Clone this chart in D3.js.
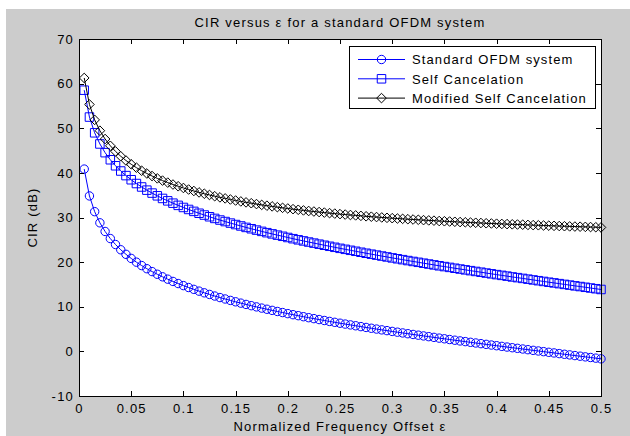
<!DOCTYPE html>
<html>
<head>
<meta charset="utf-8">
<script src="https://cdn.jsdelivr.net/npm/d3@7/dist/d3.min.js"></script>
<style>
    html, body { margin: 0; padding: 0; background: #fff; }
    text { font-family: "Liberation Sans", Arial, sans-serif; font-size: 13px; fill: #000; letter-spacing: 1.2px; }
</style>
</head>
<body>
<svg id="chart" width="630" height="436"></svg>
<script>
'use strict';

var eps = [
    0.005, 0.01, 0.015, 0.02, 0.025, 0.03, 0.035, 0.04, 0.045, 0.05,
    0.055, 0.06, 0.065, 0.07, 0.075, 0.08, 0.085, 0.09, 0.095, 0.1,
    0.105, 0.11, 0.115, 0.12, 0.125, 0.13, 0.135, 0.14, 0.145, 0.15,
    0.155, 0.16, 0.165, 0.17, 0.175, 0.18, 0.185, 0.19, 0.195, 0.2,
    0.205, 0.21, 0.215, 0.22, 0.225, 0.23, 0.235, 0.24, 0.245, 0.25,
    0.255, 0.26, 0.265, 0.27, 0.275, 0.28, 0.285, 0.29, 0.295, 0.3,
    0.305, 0.31, 0.315, 0.32, 0.325, 0.33, 0.335, 0.34, 0.345, 0.35,
    0.355, 0.36, 0.365, 0.37, 0.375, 0.38, 0.385, 0.39, 0.395, 0.4,
    0.405, 0.41, 0.415, 0.42, 0.425, 0.43, 0.435, 0.44, 0.445, 0.45,
    0.455, 0.46, 0.465, 0.47, 0.475, 0.48, 0.485, 0.49, 0.495, 0.5
];

var cirStandard = [
    40.85, 34.83, 31.31, 28.81, 26.87, 25.28, 23.94, 22.77, 21.75, 20.83,
    19.99, 19.23, 18.53, 17.88, 17.28, 16.71, 16.18, 15.67, 15.20, 14.74,
    14.31, 13.90, 13.50, 13.12, 12.76, 12.40, 12.06, 11.74, 11.42, 11.11,
    10.81, 10.52, 10.24, 9.97, 9.70, 9.44, 9.19, 8.94, 8.70, 8.46,
    8.22, 8.00, 7.77, 7.55, 7.34, 7.13, 6.92, 6.71, 6.51, 6.31,
    6.12, 5.93, 5.74, 5.55, 5.36, 5.18, 5.00, 4.82, 4.65, 4.47,
    4.30, 4.13, 3.96, 3.79, 3.63, 3.46, 3.30, 3.14, 2.97, 2.82,
    2.66, 2.50, 2.34, 2.19, 2.03, 1.88, 1.73, 1.57, 1.42, 1.27,
    1.12, 0.97, 0.82, 0.68, 0.53, 0.38, 0.23, 0.09, -0.06, -0.21,
    -0.35, -0.50, -0.65, -0.79, -0.94, -1.08, -1.23, -1.37, -1.52, -1.67
];

var cirSelfCancel = [
    58.53, 52.51, 48.98, 46.48, 44.53, 42.94, 41.59, 40.42, 39.39, 38.46,
    37.61, 36.84, 36.13, 35.47, 34.86, 34.27, 33.73, 33.21, 32.72, 32.25,
    31.80, 31.37, 30.95, 30.55, 30.17, 29.79, 29.43, 29.09, 28.75, 28.42,
    28.10, 27.78, 27.48, 27.18, 26.89, 26.60, 26.33, 26.05, 25.79, 25.52,
    25.25, 25.00, 24.75, 24.50, 24.26, 24.02, 23.78, 23.55, 23.32, 23.09,
    22.87, 22.65, 22.43, 22.21, 21.99, 21.78, 21.57, 21.36, 21.16, 20.95,
    20.75, 20.55, 20.35, 20.15, 19.96, 19.76, 19.57, 19.38, 19.18, 19.00,
    18.82, 18.63, 18.45, 18.27, 18.09, 17.91, 17.74, 17.55, 17.38, 17.20,
    17.03, 16.86, 16.68, 16.52, 16.35, 16.18, 16.01, 15.84, 15.67, 15.50,
    15.34, 15.18, 15.01, 14.85, 14.68, 14.53, 14.36, 14.20, 14.04, 13.87
];

var cirModified = [
    61.27, 55.33, 51.88, 49.45, 47.59, 46.07, 44.81, 43.72, 42.77, 41.93,
    41.17, 40.48, 39.86, 39.29, 38.77, 38.27, 37.82, 37.39, 37.00, 36.62,
    36.27, 35.94, 35.62, 35.33, 35.05, 34.77, 34.51, 34.28, 34.04, 33.81,
    33.60, 33.39, 33.20, 33.01, 32.83, 32.65, 32.49, 32.32, 32.17, 32.02,
    31.87, 31.73, 31.59, 31.46, 31.34, 31.22, 31.10, 30.98, 30.87, 30.76,
    30.66, 30.56, 30.47, 30.37, 30.27, 30.18, 30.10, 30.01, 29.93, 29.85,
    29.77, 29.70, 29.62, 29.55, 29.49, 29.41, 29.35, 29.29, 29.21, 29.16,
    29.10, 29.04, 28.98, 28.93, 28.87, 28.82, 28.77, 28.71, 28.66, 28.61,
    28.56, 28.52, 28.47, 28.43, 28.39, 28.34, 28.29, 28.26, 28.21, 28.17,
    28.13, 28.09, 28.05, 28.01, 27.97, 27.94, 27.90, 27.86, 27.82, 27.78
];

var xTicks = [0, 0.05, 0.1, 0.15, 0.2, 0.25, 0.3, 0.35, 0.4, 0.45, 0.5];
var yTicks = [-10, 0, 10, 20, 30, 40, 50, 60, 70];

var seriesNames = ['Standard OFDM system', 'Self Cancelation', 'Modified Self Cancelation'];
var seriesColors = ['#0000ff', '#0000ff', '#000000'];
var seriesMarkers = ['circle', 'square', 'diamond'];
var seriesValues = [cirStandard, cirSelfCancel, cirModified];

var titleText = 'CIR versus \u03b5 for a standard OFDM system';
var xLabelText = 'Normalized Frequency Offset \u03b5';
var yLabelText = 'CIR (dB)';

(function () {
    var svg = d3.select('#chart');
    var plot = {left: 79, top: 39, right: 601, bottom: 396};
    var x = d3.scaleLinear().domain([0, 0.5]).range([plot.left, plot.right]);
    var y = d3.scaleLinear().domain([-10, 70]).range([plot.bottom, plot.top]);
    var line;
    var g;
    var i;

    // grey figure background with the thin white margin on top / left
    svg.append('rect')
        .attr('x', 0).attr('y', 0).attr('width', 630).attr('height', 436)
        .attr('fill', '#ffffff');
    svg.append('rect')
        .attr('x', 6).attr('y', 9).attr('width', 624).attr('height', 427)
        .attr('fill', '#cccccc');

    svg.append('rect')
        .attr('x', plot.left).attr('y', plot.top)
        .attr('width', plot.right - plot.left)
        .attr('height', plot.bottom - plot.top)
        .attr('fill', '#ffffff');

    function markerPath(type) {
        var s;
        if (type === 'circle') {
            return d3.symbol().type(d3.symbolCircle).size(Math.PI * 4.2 * 4.2)();
        }
        if (type === 'square') {
            s = 8.5;
            return 'M' + (-s / 2) + ',' + (-s / 2) + 'h' + s + 'v' + s + 'h' + (-s) + 'Z';
        }
        s = 4.8;
        return 'M0,' + (-s) + 'L' + s + ',0L0,' + s + 'L' + (-s) + ',0Z';
    }

    line = d3.line()
        .x(function (d) { return x(d[0]); })
        .y(function (d) { return y(d[1]); });

    for (i = 0; i < seriesValues.length; i++) {
        var pts = eps.map(function (e, j) { return [e, seriesValues[i][j]]; });

        g = svg.append('g').attr('class', 'series series_' + i);

        g.append('path')
            .datum(pts)
            .attr('d', line)
            .attr('fill', 'none')
            .attr('stroke', seriesColors[i])
            .attr('stroke-width', 1);

        g.selectAll('path.marker')
            .data(pts)
            .enter()
            .append('path')
            .attr('class', 'marker')
            .attr('d', markerPath(seriesMarkers[i]))
            .attr('transform', function (d) {
                return 'translate(' + x(d[0]) + ',' + y(d[1]) + ')';
            })
            .attr('fill', 'none')
            .attr('stroke', seriesColors[i])
            .attr('stroke-width', 1);
    }

    // axes, ticks pointing inwards on all four sides
    svg.append('g')
        .attr('transform', 'translate(0,' + plot.bottom + ')')
        .call(d3.axisBottom(x).tickValues(xTicks).tickSizeInner(-5).tickSizeOuter(0).tickPadding(8)
            .tickFormat(function (d) { return String(d); }));
    svg.append('g')
        .attr('transform', 'translate(0,' + plot.top + ')')
        .call(d3.axisTop(x).tickValues(xTicks).tickSizeInner(-5).tickSizeOuter(0).tickFormat(''));
    svg.append('g')
        .attr('transform', 'translate(' + plot.left + ',0)')
        .call(d3.axisLeft(y).tickValues(yTicks).tickSizeInner(-5).tickSizeOuter(0).tickPadding(5)
            .tickFormat(function (d) { return String(d); }));
    svg.append('g')
        .attr('transform', 'translate(' + plot.right + ',0)')
        .call(d3.axisRight(y).tickValues(yTicks).tickSizeInner(-5).tickSizeOuter(0).tickFormat(''));

    svg.selectAll('.tick text')
        .attr('font-family', null)
        .attr('font-size', null)
        .style('font-size', '13px');
    svg.selectAll('.domain, .tick line')
        .attr('stroke', '#000')
        .attr('shape-rendering', 'crispEdges');

    svg.append('rect')
        .attr('x', plot.left + 0.5).attr('y', plot.top + 0.5)
        .attr('width', plot.right - plot.left)
        .attr('height', plot.bottom - plot.top)
        .attr('fill', 'none')
        .attr('stroke', '#000')
        .attr('shape-rendering', 'crispEdges');

    svg.append('text')
        .attr('x', (plot.left + plot.right) / 2)
        .attr('y', 27)
        .attr('text-anchor', 'middle')
        .text(titleText);

    svg.append('text')
        .attr('x', (plot.left + plot.right) / 2)
        .attr('y', 431)
        .attr('text-anchor', 'middle')
        .text(xLabelText);

    svg.append('text')
        .attr('transform', 'translate(37,' + ((plot.top + plot.bottom) / 2) + ') rotate(-90)')
        .attr('text-anchor', 'middle')
        .text(yLabelText);

    // legend
    var legend = svg.append('g').attr('class', 'legend');
    var lx = 349, ly = 46, lw = 246, lh = 62;

    legend.append('rect')
        .attr('x', lx + 0.5).attr('y', ly + 0.5)
        .attr('width', lw).attr('height', lh)
        .attr('fill', '#ffffff')
        .attr('stroke', '#000')
        .attr('shape-rendering', 'crispEdges');

    for (i = 0; i < seriesNames.length; i++) {
        var ry = ly + 13.5 + i * 19.3;
        legend.append('line')
            .attr('x1', lx + 9).attr('x2', lx + 56)
            .attr('y1', ry).attr('y2', ry)
            .attr('stroke', seriesColors[i]);
        legend.append('path')
            .attr('d', markerPath(seriesMarkers[i]))
            .attr('transform', 'translate(' + (lx + 32.5) + ',' + ry + ')')
            .attr('fill', 'none')
            .attr('stroke', seriesColors[i]);
        legend.append('text')
            .attr('x', lx + 63)
            .attr('y', ry + 4.7)
            .style('letter-spacing', '1.1px')
            .text(seriesNames[i]);
    }
})();
</script>
</body>
</html>
